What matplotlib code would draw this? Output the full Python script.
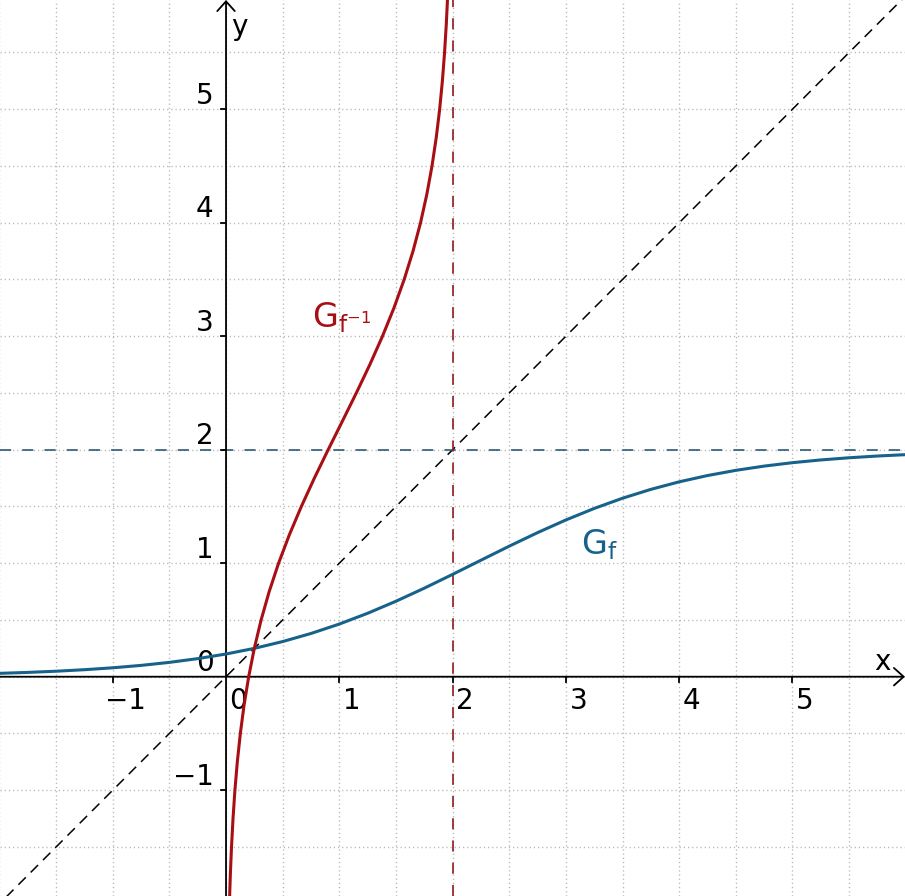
import matplotlib
matplotlib.use("Agg")
import matplotlib.pyplot as plt

plt.rcParams['lines.scale_dashes'] = False
plt.rcParams['mathtext.fontset'] = 'dejavusans'

x_vals = [-2.0, -1.75, -1.5, -1.25, -1.0, -0.75, -0.5, -0.25, 0.0, 0.25, 0.5,
          0.75, 1.0, 1.25, 1.5, 1.75, 2.0, 2.25, 2.5, 2.75, 3.0, 3.25, 3.5,
          3.75, 4.0, 4.25, 4.5, 4.75, 5.0, 5.25, 5.5, 5.75, 6.0]
f_vals = [0.0296, 0.0379, 0.0484, 0.0617, 0.0785, 0.0997, 0.1263, 0.1593, 0.2,
          0.2497, 0.3097, 0.3809, 0.4639, 0.5589, 0.6649, 0.780, 0.9017, 1.0264,
          1.1502, 1.2695, 1.3811, 1.4826, 1.5726, 1.6506, 1.717, 1.7724, 1.8182,
          1.8555, 1.8857, 1.9098, 1.9290, 1.9443, 1.9564]
asym_y = 2.0
asym_x = 2.0
x_ticks = [-1, 0, 1, 2, 3, 4, 5]
y_ticks = [-1, 0, 1, 2, 3, 4, 5]
x_labels = ['\u22121', '0', '1', '2', '3', '4', '5']
y_labels = ['\u22121', '0', '1', '2', '3', '4', '5']

BLUE = '#17628a'
RED = '#a80f14'

XMIN, XMAX = -1.995, 5.993
YMIN, YMAX = -1.932, 5.962

fig = plt.figure(figsize=(9.05, 8.96), dpi=100)
ax = fig.add_axes([0, 0, 1, 1])
ax.set_xlim(XMIN, XMAX)
ax.set_ylim(YMIN, YMAX)
ax.axis('off')

# dotted grid every 0.5
g = -4.0
while g <= 6.01:
    ax.axvline(g, color='#b8b8b8', lw=1.0, ls=(0, (0.9, 2.1)), zorder=0)
    ax.axhline(g, color='#b8b8b8', lw=1.0, ls=(0, (0.9, 2.1)), zorder=0)
    g += 0.5

# axes with arrows
ap = dict(arrowstyle='->,head_length=0.5,head_width=0.45', lw=1.3, color='black',
          shrinkA=0, shrinkB=0, mutation_scale=14)
ax.annotate('', xy=(XMAX, 0), xytext=(XMIN, 0), arrowprops=ap, zorder=3)
ax.annotate('', xy=(0, YMAX), xytext=(0, YMIN), arrowprops=ap, zorder=3)

# ticks and labels
for t, lab in zip(x_ticks, x_labels):
    if t != 0:
        ax.plot([t, t], [0, -0.045], color='black', lw=1.3, zorder=3)
    ax.text(t + 0.11, -0.09, lab, ha='center', va='top', fontsize=20,
            family='DejaVu Sans')
for t, lab in zip(y_ticks, y_labels):
    if t != 0:
        ax.plot([0, -0.045], [t, t], color='black', lw=1.3, zorder=3)
    ax.text(-0.11, t + 0.12, lab, ha='right', va='center', fontsize=20,
            family='DejaVu Sans')

ax.text(0.12, 5.72, 'y', ha='center', va='center', fontsize=20, family='DejaVu Sans')
ax.text(5.79, 0.13, 'x', ha='center', va='center', fontsize=20, family='DejaVu Sans')

# dashed helper lines
ax.plot([XMIN - 1, XMAX + 1], [XMIN - 1, XMAX + 1], color='black', lw=1.1,
        dashes=(7.5, 5), zorder=2)
ax.axhline(asym_y, color='#2b5c75', lw=1.2, dashes=(8, 8), zorder=2)
ax.axvline(asym_x, color='#8e1c20', lw=1.2, dashes=(8, 8), zorder=2)

# curves
ax.plot(x_vals, f_vals, color=BLUE, lw=2.2, zorder=4, solid_capstyle='round')
ax.plot(f_vals, x_vals, color=RED, lw=2.2, zorder=4, solid_capstyle='round')

ax.text(3.30, 1.16, r'$\mathrm{G}_{\mathrm{f}}$', color=BLUE, fontsize=24,
        ha='center', va='center')
ax.text(1.02, 3.16, r'$\mathrm{G}_{\mathrm{f}^{-1}}$', color=RED, fontsize=24,
        ha='center', va='center')

fig.savefig('out.png', dpi=100)
